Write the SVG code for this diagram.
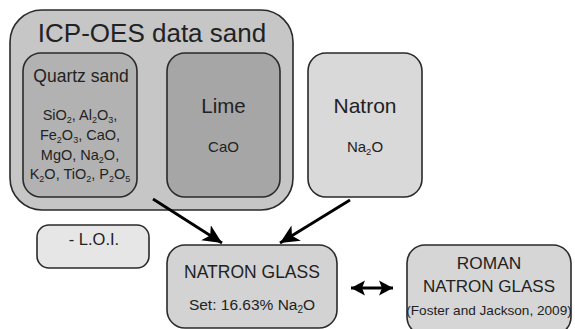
<svg xmlns="http://www.w3.org/2000/svg" width="575" height="329" viewBox="0 0 575 329">
<style>
.box{stroke:#2a2a2a;stroke-width:1.6}
.t{font-family:"Liberation Sans",Arial,sans-serif;fill:#222;text-anchor:middle}
.conn{stroke:#000;stroke-width:2.8;fill:none}
</style>
<defs>
<marker id="ah" markerUnits="userSpaceOnUse" markerWidth="22" markerHeight="20" refX="19" refY="10" orient="auto-start-reverse">
<path d="M0,1 L19,10 L0,19 L5,10 Z" fill="#000"/>
</marker>
<marker id="ah2" markerUnits="userSpaceOnUse" markerWidth="16" markerHeight="18" refX="14" refY="9" orient="auto-start-reverse">
<path d="M0,1.5 L14,9 L0,16.5 L3,9 Z" fill="#000"/>
</marker>
</defs>
<rect width="575" height="329" fill="#fff"/>
<g id="icp-oes">
<rect class="box" x="10" y="10" width="283" height="200" rx="32" fill="#c6c6c6"/>
<text class="t" x="152" y="42" font-size="26">ICP-OES data sand</text>
</g>
<g id="quartz-sand">
<rect class="box" x="23" y="53" width="114" height="144" rx="18" fill="#b2b2b2"/>
<text class="t" x="81" y="82" font-size="17.5">Quartz sand</text>
<text class="t" x="80" y="120" font-size="14.5">SiO<tspan font-size="9" dy="3">2</tspan><tspan dy="-3">, Al</tspan><tspan font-size="9" dy="3">2</tspan><tspan dy="-3">O</tspan><tspan font-size="9" dy="3">3</tspan><tspan dy="-3">,</tspan></text>
<text class="t" x="80" y="140" font-size="14.5">Fe<tspan font-size="9" dy="3">2</tspan><tspan dy="-3">O</tspan><tspan font-size="9" dy="3">3</tspan><tspan dy="-3">, CaO,</tspan></text>
<text class="t" x="80" y="160" font-size="14.5">MgO, Na<tspan font-size="9" dy="3">2</tspan><tspan dy="-3">O,</tspan></text>
<text class="t" x="80" y="179" font-size="14.5">K<tspan font-size="9" dy="3">2</tspan><tspan dy="-3">O, TiO</tspan><tspan font-size="9" dy="3">2</tspan><tspan dy="-3">, P</tspan><tspan font-size="9" dy="3">2</tspan><tspan dy="-3">O</tspan><tspan font-size="9" dy="3">5</tspan></text>
</g>
<g id="lime">
<rect class="box" x="167" y="53" width="113" height="144" rx="18" fill="#a6a6a6"/>
<text class="t" x="223.5" y="113" font-size="20.5">Lime</text>
<text class="t" x="223.5" y="152" font-size="15">CaO</text>
</g>
<g id="natron">
<rect class="box" x="308" y="53" width="114" height="144" rx="18" fill="#d9d9d9"/>
<text class="t" x="365" y="113" font-size="21">Natron</text>
<text class="t" x="365" y="152" font-size="15">Na<tspan font-size="9.5" dy="3">2</tspan><tspan dy="-3">O</tspan></text>
</g>
<g id="loi">
<rect class="box" x="37" y="225" width="112" height="43" rx="12" fill="#e6e6e6"/>
<text class="t" x="94" y="245" font-size="16.5">- L.O.I.</text>
</g>
<g id="natron-glass">
<rect class="box" x="167" y="245" width="170" height="83" rx="18" fill="#d3d3d3"/>
<text class="t" x="252" y="278" font-size="17.5">NATRON GLASS</text>
<text class="t" x="252" y="310" font-size="15.5">Set: 16.63% Na<tspan font-size="10" dy="3">2</tspan><tspan dy="-3">O</tspan></text>
</g>
<g id="roman-natron-glass">
<rect class="box" x="407" y="245" width="164" height="90" rx="18" fill="#d6d6d6"/>
<text class="t" x="489" y="269" font-size="17.3">ROMAN</text>
<text class="t" x="489" y="292" font-size="17">NATRON GLASS</text>
<text class="t" x="489" y="315" font-size="13.6">(Foster and Jackson, 2009)</text>
</g>
<g id="connectors">
<line class="conn" x1="153" y1="199" x2="222" y2="243" marker-end="url(#ah)"/>
<line class="conn" x1="350" y1="200" x2="280" y2="243" marker-end="url(#ah)"/>
<line class="conn" x1="351" y1="288" x2="393" y2="288" stroke-width="2" marker-start="url(#ah2)" marker-end="url(#ah2)"/>
</g>
</svg>
